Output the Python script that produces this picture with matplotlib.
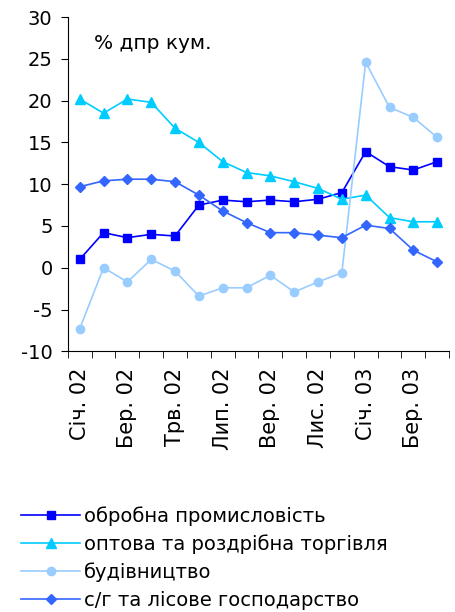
import matplotlib
matplotlib.use("Agg")
import matplotlib.pyplot as plt
import numpy as np

plt.rcParams['font.family'] = ['DejaVu Sans']
plt.rcParams['axes.unicode_minus'] = False

months = ['Січ. 02', 'Лют. 02', 'Бер. 02', 'Кві. 02', 'Трв. 02', 'Чер. 02',
          'Лип. 02', 'Сер. 02', 'Вер. 02', 'Жов. 02', 'Лис. 02', 'Гру. 02',
          'Січ. 03', 'Лют. 03', 'Бер. 03', 'Кві. 03']

manufacturing = [1.0, 4.2, 3.6, 4.0, 3.8, 7.5, 8.1, 7.9, 8.1, 7.9, 8.2, 9.0,
                 13.9, 12.1, 11.7, 12.7]
trade = [20.2, 18.5, 20.2, 19.8, 16.7, 15.0, 12.7, 11.4, 11.0, 10.3, 9.5, 8.2,
         8.7, 6.0, 5.5, 5.5]
construction = [-7.3, 0.0, -1.7, 1.0, -0.4, -3.4, -2.4, -2.4, -0.9, -2.9, -1.7,
                -0.6, 24.6, 19.2, 18.0, 15.6]
agriculture = [9.7, 10.4, 10.6, 10.6, 10.3, 8.7, 6.8, 5.4, 4.2, 4.2, 3.9, 3.6,
               5.1, 4.7, 2.1, 0.7]

labels = ['обробна промисловість', 'оптова та роздрібна торгівля',
          'будівництво', 'с/г та лісове господарство']

fig = plt.figure(figsize=(4.55, 6.12), dpi=100)
ax = fig.add_axes([0.149, 0.426, 0.838, 0.546])

x = np.arange(len(months))
ax.plot(x, manufacturing, color='#0000FF', marker='s', markersize=6, lw=1.2, label=labels[0])
ax.plot(x, trade, color='#00CCFF', marker='^', markersize=7, lw=1.2, label=labels[1])
ax.plot(x, construction, color='#99CCFF', marker='o', markersize=6, lw=1.2, label=labels[2])
ax.plot(x, agriculture, color='#3366FF', marker='D', markersize=5, lw=1.2, label=labels[3])

ax.set_ylim(-10, 30)
ax.set_yticks(range(-10, 31, 5))
ax.set_xlim(-0.5, len(months) - 0.5)
ax.set_xticks(x[::2])
ax.set_xticklabels(months[::2])
ax.set_xticks(np.arange(-0.5, len(months), 1), minor=True)
ax.tick_params(axis='x', which='major', length=0, pad=12, labelsize=15, labelrotation=90)
ax.tick_params(axis='x', which='minor', length=5, direction='out')
ax.tick_params(axis='y', length=5, direction='out', labelsize=14, pad=6)

for side in ['top', 'right']:
    ax.spines[side].set_visible(False)

ax.text(0.07, 0.95, '% дпр кум.', transform=ax.transAxes, fontsize=14.5, va='top')

fig.legend(loc='upper left', bbox_to_anchor=(0.03, 0.186), frameon=False,
           fontsize=14, handlelength=3.0, handletextpad=0.2, labelspacing=0.44,
           borderaxespad=0)

fig.savefig('out.png', dpi=100)
